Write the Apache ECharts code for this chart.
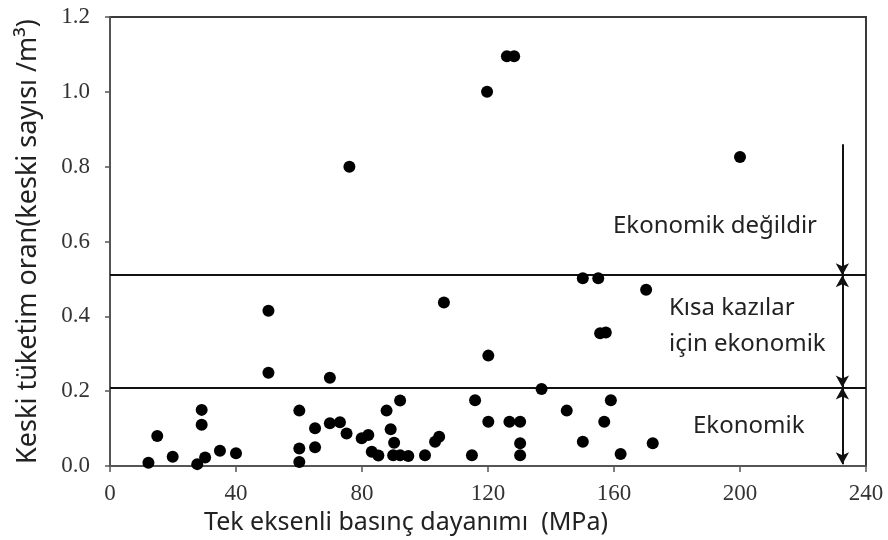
<!DOCTYPE html>
<html>
<head>
<meta charset="utf-8">
<script src="https://cdn.jsdelivr.net/npm/echarts@6/dist/echarts.min.js"></script>
<style>html,body{margin:0;padding:0;background:#fff}#c{width:888px;height:540px}</style>
</head>
<body>
<div id="c"></div>
<script>
// Uniaxial compressive strength (MPa)
var strength = [
  200, 150.1, 155.0, 170.2, 155.6, 157.4, 159.0, 145.0, 156.9, 150.1, 172.3, 162.1,
  120.1, 137.0, 115.9, 126.8, 130.2, 120.1, 130.2, 114.9, 130.2,
  69.8, 60.1, 92.1, 87.8, 65.1, 69.8, 73.0, 75.1, 79.9, 82.0, 89.1, 60.1, 65.1, 60.1,
  83.1, 85.2, 90.2, 89.9, 92.1, 94.7, 100.0, 103.2, 104.5,
  50.3, 29.1, 29.1, 15.0, 19.9, 12.2, 27.7, 30.2, 34.9, 40.0,
  50.3, 106.0, 76.0, 119.7, 126.0, 128.3
];
// Cutter consumption (cutters / m3)
var consumption = [
  0.826, 0.502, 0.502, 0.471, 0.355, 0.357, 0.176, 0.148, 0.118, 0.065, 0.061, 0.032,
  0.295, 0.206, 0.176, 0.118, 0.118, 0.118, 0.061, 0.029, 0.029,
  0.236, 0.148, 0.175, 0.148, 0.101, 0.114, 0.117, 0.087, 0.074, 0.083, 0.098, 0.047, 0.050, 0.011,
  0.038, 0.028, 0.062, 0.029, 0.029, 0.027, 0.029, 0.065, 0.078,
  0.249, 0.150, 0.110, 0.080, 0.025, 0.009, 0.005, 0.023, 0.041, 0.034,
  0.415, 0.437, 0.800, 1.000, 1.095, 1.095
];
var xTicks = [0, 40, 80, 120, 160, 200, 240];
var yTicks = [0.0, 0.2, 0.4, 0.6, 0.8, 1.0, 1.2];
var thresholds = [0.21, 0.51];
var arrowX = 232.5;
var arrowTop = 0.86;
var arrowBottom = 0.005;

var points = strength.map(function (s, i) { return [s, consumption[i]]; });

var chart = echarts.init(document.getElementById('c'), null, { renderer: 'canvas' });
var sans = 'Noto Sans';
var serif = 'Liberation Serif';

chart.setOption({
  animation: false,
  backgroundColor: '#fff',
  grid: { left: 110, right: 22, top: 17, bottom: 74, show: true, borderColor: '#3a3a3a', borderWidth: 2,
          containLabel: false, outerBoundsMode: 'none' },
  xAxis: {
    type: 'value', min: xTicks[0], max: xTicks[xTicks.length - 1], interval: 40,
    axisLine: { show: true, lineStyle: { color: '#555', width: 2 } },
    axisTick: { show: true, inside: false, length: 6, lineStyle: { color: '#555', width: 1.5 } },
    splitLine: { show: false },
    axisLabel: {
      show: true, margin: 16, fontFamily: serif, fontSize: 23, color: '#333',
      formatter: function (v) { return String(v); }
    },
    name: 'Tek eksenli basınç dayanımı  (MPa)',
    nameLocation: 'middle', nameGap: 43,
    nameTextStyle: { fontFamily: sans, fontSize: 25, color: '#222', padding: [0, 164, 0, 0] }
  },
  yAxis: {
    type: 'value', min: yTicks[0], max: yTicks[yTicks.length - 1], interval: 0.2,
    axisLine: { show: true, lineStyle: { color: '#555', width: 2 } },
    axisTick: { show: true, inside: false, length: 5, lineStyle: { color: '#555', width: 1.5 } },
    splitLine: { show: false },
    axisLabel: {
      show: true, margin: 20, fontFamily: serif, fontSize: 23, color: '#333',
      formatter: function (v) { return v.toFixed(1); }
    },
    name: 'Keski tüketim oran(keski sayısı /m³)',
    nameLocation: 'middle', nameGap: 68, nameRotate: 90,
    nameTextStyle: { fontFamily: sans, fontSize: 27, color: '#222' }
  },
  series: [
    {
      type: 'scatter', data: points, symbol: 'circle', symbolSize: 12,
      itemStyle: { color: '#000', opacity: 1 },
      z: 5,
      markLine: {
        silent: true, symbol: 'none', animation: false,
        label: { show: false },
        lineStyle: { color: '#111', width: 2, type: 'solid', opacity: 1 },
        data: thresholds.map(function (t) { return { yAxis: t }; })
      }
    },
    {
      type: 'scatter', data: [],
      markLine: {
        silent: true, animation: false, symbolSize: [10, 12],
        label: { show: false },
        lineStyle: { color: '#111', width: 2, type: 'solid', opacity: 1 },
        itemStyle: { color: '#111' },
        data: [
          [{ coord: [arrowX, arrowTop], symbol: 'none' }, { coord: [arrowX, thresholds[1]], symbol: 'arrow' }],
          [{ coord: [arrowX, thresholds[1]], symbol: 'arrow' }, { coord: [arrowX, thresholds[0]], symbol: 'arrow' }],
          [{ coord: [arrowX, thresholds[0]], symbol: 'arrow' }, { coord: [arrowX, arrowBottom], symbol: 'arrow' }]
        ]
      }
    }
  ],
  graphic: [
    { type: 'text', left: 613, top: 214, style: { text: 'Ekonomik değildir', font: '24px "Noto Sans"', fill: '#222' } },
    { type: 'text', left: 669, top: 296, style: { text: 'Kısa kazılar', font: '24px "Noto Sans"', fill: '#222' } },
    { type: 'text', left: 669, top: 332, style: { text: 'için ekonomik', font: '24px "Noto Sans"', fill: '#222' } },
    { type: 'text', left: 693, top: 414, style: { text: 'Ekonomik', font: '24px "Noto Sans"', fill: '#222' } }
  ]
});
</script>
</body>
</html>
